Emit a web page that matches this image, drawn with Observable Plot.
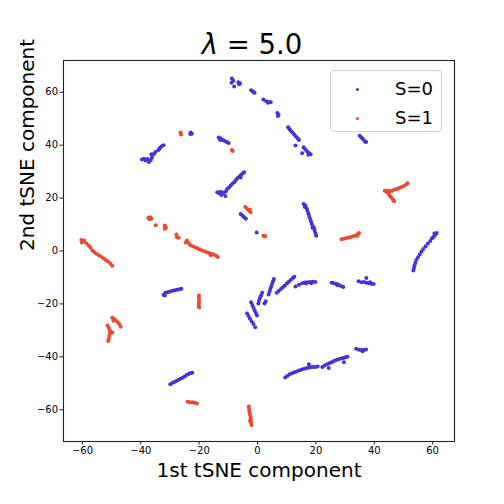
<!DOCTYPE html>
<html><head><meta charset="utf-8">
<script src="https://cdn.jsdelivr.net/npm/d3@7"></script>
<script src="https://cdn.jsdelivr.net/npm/@observablehq/plot@0.6"></script>
<style>
body{margin:0;background:#fff;font-family:"DejaVu Sans",sans-serif}
#wrap{position:relative;width:504px;height:504px}
#title{position:absolute;left:0;width:504px;top:26px;text-align:center;font-size:27.5px;line-height:36px;color:#000}
#legend{position:absolute;left:330px;top:70px;width:112px;height:62px;background:rgba(255,255,255,0.8);border:1px solid #d0d0d0;border-radius:4px;box-sizing:border-box}
.lrow{position:absolute;left:0;width:112px;height:20px}
.lmk{position:absolute;left:25px;top:8.5px;width:3px;height:3px;border-radius:50%}
.ltx{position:absolute;left:64px;top:-2px;font-size:18px;line-height:24px;color:#000}
</style>
</head><body>
<div id="wrap"><div id="chart"></div>
<div id="title"><i>λ</i> = 5.0</div>
<div id="legend">
<div class="lrow" style="top:8px"><div class="lmk" style="background:#4b2fd9"></div><div class="ltx">S=0</div></div>
<div class="lrow" style="top:37px"><div class="lmk" style="background:#ea4a30"></div><div class="ltx">S=1</div></div>
</div></div>
<script>
const xTicks = [-60, -40, -20, 0, 20, 40, 60];
const yTicks = [-60, -40, -20, 0, 20, 40, 60];
const groups = ["S=0", "S=1"];
const colors = ["#4b2fd9", "#ea4a30"];

// S=0 clusters
const s0TopChain = [[-8.8,65.2],[-8.3,64.3],[-8.9,63.6],[-8.0,62.2],[-6.6,63.8],[-6.0,63.4],[-6.3,63.0],[-2.2,60.8],[-1.6,60.4],[-1.0,59.8],[-1.4,60.0],[2.0,57.3],[3.0,56.6],[3.6,56.0],[4.0,56.3],[4.5,56.2],[6.8,52.2],[7.2,51.5],[7.0,51.0],[10.5,46.8],[11.0,46.0],[11.5,45.3],[12.0,44.8],[12.6,43.9],[13.2,43.2],[13.8,42.5],[14.2,42.0],[13.0,39.9],[15.8,39.2],[16.4,38.4],[17.0,37.6],[17.6,37.0],[18.2,36.6],[17.4,36.4],[15.3,36.9]];
const s0UnderLegend = [[35.0,43.6],[35.6,42.9],[36.2,42.2],[36.8,41.4],[37.2,41.2]];
const s0UpperLeft = [[-39.6,34.6],[-39.0,34.9],[-38.4,34.2],[-37.8,34.8],[-37.2,33.6],[-36.6,34.4],[-36.2,35.2],[-36.4,36.6],[-35.6,36.6],[-35.0,37.4],[-34.0,38.2],[-33.4,39.0],[-32.8,39.6],[-32.2,40.0],[-33.6,38.6]];
const s0Small = [[-22.9,44.8],[-22.5,44.3],[-23.1,44.2],[-13.3,42.9],[-12.6,42.5],[-11.9,42.0],[-11.2,41.6],[-10.5,41.2],[-9.9,40.8],[-12.8,42.0],[-5.8,14.0],[-5.2,13.4],[-4.6,12.8],[-4.0,12.2],[-0.3,7.0]];
const s0Diagonal = [[-13.8,22.2],[-13.2,21.8],[-12.6,22.4],[-12.0,21.8],[-11.4,22.2],[-10.8,22.6],[-10.4,23.4],[-9.8,24.0],[-9.2,24.8],[-8.6,25.4],[-8.0,26.0],[-7.4,26.8],[-6.8,27.6],[-6.2,28.2],[-5.6,28.8],[-5.0,29.4],[-4.6,29.8],[-5.8,27.8],[-12.4,21.2],[-11.0,20.8]];
const s0Vertical = [[15.8,17.8],[16.4,17.2],[16.8,16.2],[17.1,15.2],[17.4,14.2],[17.7,13.2],[18.0,12.2],[18.3,11.2],[18.6,10.2],[19.0,9.4],[19.4,8.6],[19.6,7.6],[19.9,6.6],[20.1,5.8],[18.8,8.8],[16.2,16.6]];
const s0Right = [[53.4,-7.4],[53.6,-6.4],[53.8,-5.4],[54.1,-4.4],[54.4,-3.4],[55.0,-2.4],[55.6,-1.2],[56.2,-0.2],[56.8,0.8],[57.6,1.8],[58.4,2.8],[59.2,3.8],[59.8,4.8],[60.4,5.4],[61.0,6.2],[61.4,6.8],[60.6,6.6]];
const s0Arcs = [[-3.6,-23.6],[-3.1,-24.6],[-2.6,-25.6],[-2.0,-26.6],[-1.4,-27.6],[-0.8,-28.8],[-2.2,-19.4],[-1.8,-20.4],[-1.4,-21.4],[-1.0,-22.4],[-0.6,-23.4],[-0.2,-24.4],[1.6,-15.8],[1.2,-16.8],[0.8,-17.8],[0.5,-18.8],[0.3,-19.8],[2.4,-19.8],[2.8,-19.0],[3.8,-16.4],[4.1,-15.4],[4.4,-14.4],[4.7,-13.4],[5.0,-12.4],[5.3,-11.4],[5.6,-10.6],[6.6,-15.8],[7.3,-15.1],[8.0,-14.4],[8.7,-13.7],[9.4,-13.0],[10.1,-12.2],[10.8,-11.5],[11.5,-10.8],[12.2,-10.1],[12.6,-9.7],[13.0,-13.4],[14.2,-12.8],[15.3,-12.2],[16.2,-11.9],[17.1,-11.8],[18.0,-11.7],[18.9,-11.6],[19.8,-11.7],[16.6,-12.3],[18.4,-12.2],[25.4,-12.0],[26.2,-12.2],[27.0,-12.5],[27.8,-12.8],[28.6,-13.2],[29.4,-13.6],[27.4,-12.9],[34.6,-11.4],[35.6,-11.8],[36.5,-11.7],[37.3,-12.0],[38.2,-12.2],[39.0,-12.4],[39.8,-12.5],[37.3,-10.2],[38.6,-11.8]];
const s0Lower = [[9.5,-47.8],[10.2,-47.2],[11.0,-46.6],[11.8,-46.2],[12.6,-45.8],[13.4,-45.5],[14.2,-45.2],[15.0,-44.9],[15.8,-44.6],[16.6,-44.3],[17.4,-44.1],[18.2,-43.9],[19.0,-43.8],[19.8,-43.8],[20.6,-43.7],[17.6,-42.8],[22.2,-43.8],[23.0,-43.3],[23.8,-42.8],[24.6,-42.4],[25.4,-42.0],[26.2,-41.6],[27.0,-41.2],[27.8,-40.9],[28.6,-40.6],[29.4,-40.4],[30.2,-40.2],[30.8,-40.0],[24.4,-44.2],[29.6,-42.0],[33.8,-36.9],[34.8,-37.3],[35.6,-37.4],[36.4,-37.4],[37.2,-37.2],[36.0,-37.9]];
const s0LeftLow = [[-32.2,-16.6],[-31.6,-15.8],[-30.8,-15.6],[-30.0,-15.3],[-29.2,-15.0],[-28.4,-14.8],[-27.6,-14.6],[-26.8,-14.5],[-26.1,-14.3],[-31.8,-16.8],[-29.9,-50.4],[-29.2,-49.9],[-28.5,-49.5],[-27.8,-49.1],[-27.1,-48.7],[-26.4,-48.3],[-25.7,-47.9],[-25.0,-47.4],[-24.3,-46.9],[-23.6,-46.5],[-22.9,-46.1],[-22.4,-46.0]];

// S=1 clusters
const s1Small = [[-26.4,44.8],[-26.2,44.0],[-8.8,38.2],[-8.5,37.8],[-37.4,12.6],[-36.8,12.8],[-37.0,12.0],[-36.4,12.2],[-34.9,9.7],[-31.8,9.6],[-31.4,8.8],[-31.8,8.4],[-27.8,6.2],[-27.6,5.2],[-27.0,5.0],[-4.2,16.6],[-3.6,16.0],[-3.0,15.4],[-2.4,14.6],[-2.6,15.6],[2.0,5.8],[2.6,5.6]];
const s1Diagonal = [[-24.2,4.0],[-23.6,3.0],[-23.0,2.2],[-22.2,1.8],[-21.4,1.4],[-20.6,1.0],[-19.8,0.6],[-19.0,0.2],[-18.2,-0.1],[-17.4,-0.5],[-16.6,-0.8],[-15.8,-1.0],[-15.0,-1.3],[-14.2,-1.8],[-13.6,-2.3],[-24.6,3.2],[-16.0,-1.6]];
const s1Right = [[28.8,4.4],[29.6,4.6],[30.4,4.9],[31.2,5.1],[32.0,5.3],[32.8,5.6],[33.6,5.9],[34.4,6.4],[34.8,6.8],[34.2,5.8],[43.6,22.8],[44.2,22.4],[44.8,21.8],[45.2,21.0],[45.8,20.2],[46.4,19.4],[46.8,18.8],[44.6,22.8],[45.4,22.6],[46.2,22.8],[47.0,23.2],[47.8,23.4],[48.6,23.8],[49.4,24.2],[50.2,24.6],[51.0,25.2],[51.4,25.6]];
const s1Left = [[-60.4,4.2],[-59.8,3.6],[-60.2,3.2],[-59.4,4.0],[-58.6,2.8],[-57.8,2.0],[-57.2,1.2],[-56.6,0.2],[-56.0,-0.4],[-55.2,-1.0],[-54.4,-1.6],[-53.6,-2.2],[-52.8,-2.8],[-52.0,-3.4],[-51.2,-4.0],[-50.4,-4.8],[-49.8,-5.6],[-49.8,-25.2],[-49.2,-25.6],[-48.6,-26.2],[-48.0,-26.8],[-47.4,-27.6],[-46.9,-28.6],[-49.4,-26.4],[-51.4,-28.2],[-51.0,-29.0],[-50.6,-30.0],[-50.6,-31.0],[-50.8,-32.0],[-51.0,-33.2],[-51.2,-34.0],[-49.8,-30.8]];
const s1Lower = [[-20.1,-16.8],[-20.1,-17.8],[-20.0,-18.8],[-20.1,-19.8],[-20.2,-20.8],[-20.0,-21.4],[-24.0,-57.0],[-23.2,-57.2],[-22.4,-57.2],[-21.6,-57.4],[-20.8,-57.6],[-3.0,-58.8],[-2.9,-59.8],[-2.8,-60.8],[-2.6,-61.8],[-2.4,-62.8],[-2.3,-63.8],[-2.2,-64.8],[-2.1,-65.8],[-2.6,-64.2]];

const s0 = [...s0TopChain, ...s0UnderLegend, ...s0UpperLeft, ...s0Small, ...s0Diagonal, ...s0Vertical, ...s0Right, ...s0Arcs, ...s0Lower, ...s0LeftLow];
const s1 = [...s1Small, ...s1Diagonal, ...s1Right, ...s1Left, ...s1Lower];
const points = [
  ...s0.map(([x, y]) => ({x, y, S: groups[0]})),
  ...s1.map(([x, y]) => ({x, y, S: groups[1]}))
];

const chart = Plot.plot({
  width: 504, height: 504,
  marginTop: 60, marginBottom: 63, marginLeft: 63, marginRight: 50,
  x: {domain: [-66.5, 67.5]},
  y: {domain: [-72, 72]},
  color: {domain: groups, range: colors},
  style: {fontFamily: "DejaVu Sans", fontSize: "10px", color: "#000", background: "#fff", overflow: "visible"},
  marks: [
    Plot.dot(points, {x: "x", y: "y", fill: "S", r: 2, stroke: null}),
    Plot.frame({stroke: "#222", strokeWidth: 1.1}),
    Plot.axisX({ticks: xTicks, tickSize: 3.5, tickPadding: 2, label: null, fontSize: 10, stroke: "#222"}),
    Plot.axisY({ticks: yTicks, tickSize: 3.5, tickPadding: 2, label: null, fontSize: 10, stroke: "#222"}),
    Plot.text(["1st tSNE component"], {frameAnchor: "bottom", dy: 29, lineAnchor: "middle", fontSize: 20, fill: "#000"}),
    Plot.text(["2nd tSNE component"], {frameAnchor: "left", dx: -36, rotate: -90, lineAnchor: "middle", fontSize: 20, fill: "#000"})
  ]
});
document.getElementById("chart").appendChild(chart);
</script>
</body></html>
